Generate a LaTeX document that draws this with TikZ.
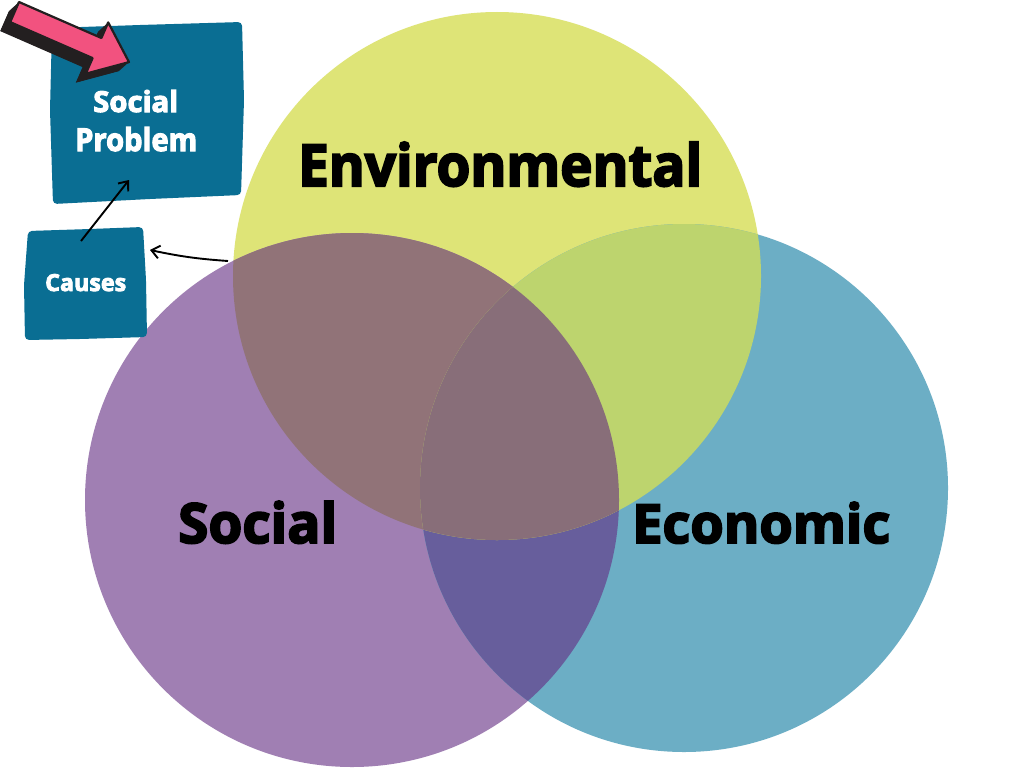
\documentclass[tikz,border=0pt]{standalone}
\usepackage{fontspec}
\setmainfont{Open Sans}
\newfontfamily\heavy{Open Sans}[BoldFeatures={FakeBold=3.5}]
\usetikzlibrary{arrows.meta}
\definecolor{cy}{HTML}{DEE477}
\definecolor{cp}{HTML}{A07FB3}
\definecolor{cb}{HTML}{6CAEC5}
\definecolor{cyp}{HTML}{917378}
\definecolor{cyb}{HTML}{BDD46E}
\definecolor{cpb}{HTML}{675E9C}
\definecolor{cyt}{HTML}{886E79}
\definecolor{boxc}{HTML}{0A6E93}
\definecolor{pinkc}{HTML}{F2527F}
\definecolor{shadowc}{HTML}{231F20}
\tikzset{
  bigtext/.style={inner sep=0pt, anchor=base west, text=black},
  boxtext/.style={inner sep=0pt, anchor=base west, text=white},
  wobblybox/.style={fill=boxc, rounded corners=4pt},
  thinarrow/.style={draw=black, line width=1.9pt, -{Straight Barb[length=8pt,width=13pt,line width=1.9pt]}},
  arrowshape/.style={line join=round},
}
\begin{document}
\begin{tikzpicture}[x=1pt,y=-1pt]
\useasboundingbox (0,0) rectangle (1024,768);
\fill[white] (0,0) rectangle (1024,768);
% circle centres
\coordinate (E) at (497,276);
\coordinate (P) at (352,500);
\coordinate (B) at (684,488);
% base circles
\fill[cy] (E) circle[radius=264pt];
\fill[cp] (P) circle[radius=267pt];
\fill[cb] (B) circle[radius=264pt];
% purple-blue overlap
\begin{scope}
  \clip (P) circle[radius=267pt];
  \fill[cpb] (B) circle[radius=264pt];
\end{scope}
% overlaps with yellow
\begin{scope}
  \clip (E) circle[radius=264pt];
  \fill[cyp] (P) circle[radius=267pt];
  \fill[cyb] (B) circle[radius=264pt];
  \clip (P) circle[radius=267pt];
  \fill[cyt] (B) circle[radius=264pt];
\end{scope}
% circle labels
\node[bigtext] (env) at (298,186) {\resizebox{404pt}{44pt}{\heavy\bfseries Environmental}};
\node[bigtext] (soc) at (178,543) {\resizebox{159pt}{42pt}{\heavy\bfseries Social}};
\node[bigtext] (eco) at (632,543) {\resizebox{258pt}{41pt}{\heavy\bfseries Economic}};
% boxes
\fill[wobblybox] (52,28) -- (140,25) -- (242,22) -- (244,100) -- (241,195) -- (150,199) -- (53,204) -- (50,110) -- cycle;
\fill[wobblybox] (28,231) -- (90,229) -- (143,227) -- (146,280) -- (147,337) -- (80,339) -- (25,340) -- (24,285) -- cycle;
\node[boxtext] (sp1) at (93,112) {\resizebox{85pt}{22pt}{\heavy\bfseries Social}};
\node[boxtext] (sp2) at (75,151) {\resizebox{122pt}{24pt}{\heavy\bfseries Problem}};
\node[boxtext] (cau) at (45,291) {\resizebox{81pt}{17pt}{\heavy\bfseries Causes}};
% thin arrows
\coordinate (a1s) at (81,241);
\coordinate (a1e) at (129,180);
\coordinate (a2s) at (228,261);
\coordinate (a2e) at (150,250);
\draw[thinarrow] (a1s) -- (a1e);
\draw[thinarrow] (a2s) to[bend left=4] (a2e);
% pink 3D arrow
\foreach \i in {0,0.5,...,10}{
  \fill[shadowc, arrowshape, shift={(-\i,0.9*\i)}] (19,2) -- (101.4,38) -- (108.2,22.4) -- (129,62.1) -- (85.8,73.7) -- (92.6,58.1) -- (10.2,22.1) -- cycle;
}
\filldraw[fill=pinkc, draw=shadowc, line width=2.2pt, arrowshape] (19,2) -- (101.4,38) -- (108.2,22.4) -- (129,62.1) -- (85.8,73.7) -- (92.6,58.1) -- (10.2,22.1) -- cycle;
\end{tikzpicture}
\end{document}
